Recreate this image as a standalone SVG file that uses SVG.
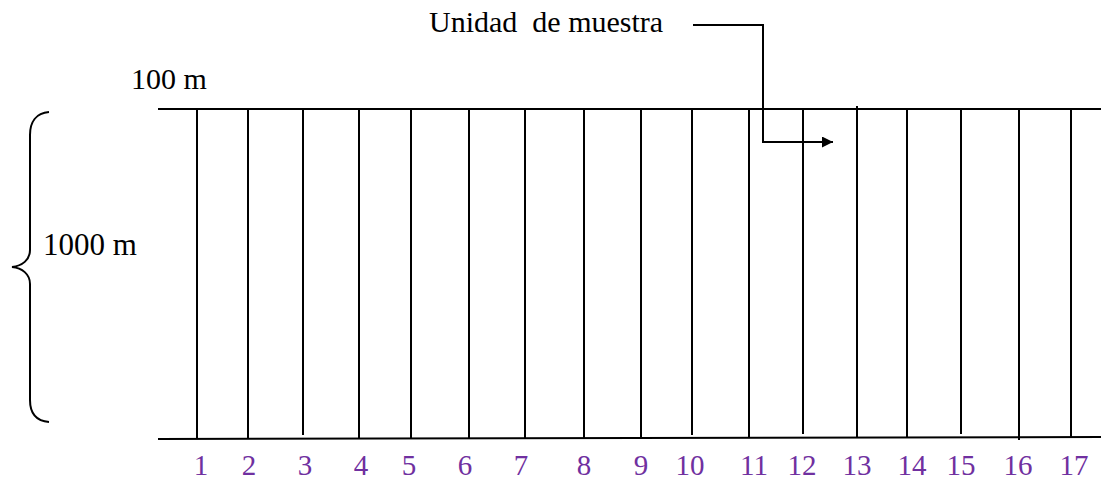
<svg xmlns="http://www.w3.org/2000/svg" width="1101" height="484" viewBox="0 0 1101 484">
<style>
.t{font-family:"Liberation Serif","Times New Roman",serif;font-size:30px;fill:#000}
.n{font-family:"Liberation Serif","Times New Roman",serif;font-size:29px;fill:#7030A0;text-anchor:middle}
.ln{stroke:#000;stroke-width:2;fill:none}
.v{stroke:#000;stroke-width:2;fill:none}
</style>
<defs>
<marker id="ah" markerWidth="11" markerHeight="11" refX="11" refY="5.5" orient="auto" markerUnits="userSpaceOnUse">
<path d="M0,0 L11,5.5 L0,11 Z" fill="#000"/>
</marker>
</defs>
<g id="labels">
<text class="t" x="429" y="32" xml:space="preserve">Unidad  de muestra</text>
<text class="t" x="131" y="89">100 m</text>
<text class="t" x="43" y="255" style="font-size:31px">1000 m</text>
</g>
<g id="brace">
<path class="ln" d="M49,112 C36,113 30,122 30,135 L30,250 C30,260 22,266 12,267 C22,268 30,274 30,284 L30,400 C30,413 36,421 49,422"/>
</g>
<g id="plot">
<line class="ln" x1="158" y1="109" x2="1101" y2="109"/>
<line class="ln" x1="158" y1="439" x2="1101" y2="437"/>
<g id="strips">
<line class="v" x1="197" y1="109" x2="197" y2="439"/>
<line class="v" x1="248" y1="109" x2="248" y2="439"/>
<line class="v" x1="303" y1="109" x2="303" y2="435"/>
<line class="v" x1="359" y1="109" x2="359" y2="438"/>
<line class="v" x1="411" y1="109" x2="411" y2="438"/>
<line class="v" x1="469" y1="109" x2="469" y2="438"/>
<line class="v" x1="525" y1="109" x2="525" y2="438"/>
<line class="v" x1="584" y1="109" x2="584" y2="438"/>
<line class="v" x1="641" y1="109" x2="641" y2="438"/>
<line class="v" x1="692" y1="109" x2="692" y2="435"/>
<line class="v" x1="749" y1="109" x2="749" y2="438"/>
<line class="v" x1="803" y1="109" x2="803" y2="434"/>
<line class="v" x1="857" y1="106" x2="857" y2="438"/>
<line class="v" x1="907" y1="109" x2="907" y2="437"/>
<line class="v" x1="961" y1="109" x2="961" y2="434"/>
<line class="v" x1="1019" y1="109" x2="1019" y2="440"/>
<line class="v" x1="1071" y1="109" x2="1071" y2="437"/>
</g>
</g>
<g id="numbers">
<text class="n" x="201" y="475">1</text>
<text class="n" x="249" y="475">2</text>
<text class="n" x="305" y="475">3</text>
<text class="n" x="361" y="475">4</text>
<text class="n" x="409" y="475">5</text>
<text class="n" x="465" y="475">6</text>
<text class="n" x="521" y="475">7</text>
<text class="n" x="584" y="475">8</text>
<text class="n" x="641" y="475">9</text>
<text class="n" x="690" y="475">10</text>
<text class="n" x="754" y="475">11</text>
<text class="n" x="802" y="475">12</text>
<text class="n" x="857" y="475">13</text>
<text class="n" x="912" y="475">14</text>
<text class="n" x="961" y="475">15</text>
<text class="n" x="1018" y="475">16</text>
<text class="n" x="1074" y="475">17</text>
</g>
<g id="connectors">
<path class="ln" d="M693,25 L763,25 L763,142 L833,142" marker-end="url(#ah)"/>
</g>
</svg>
